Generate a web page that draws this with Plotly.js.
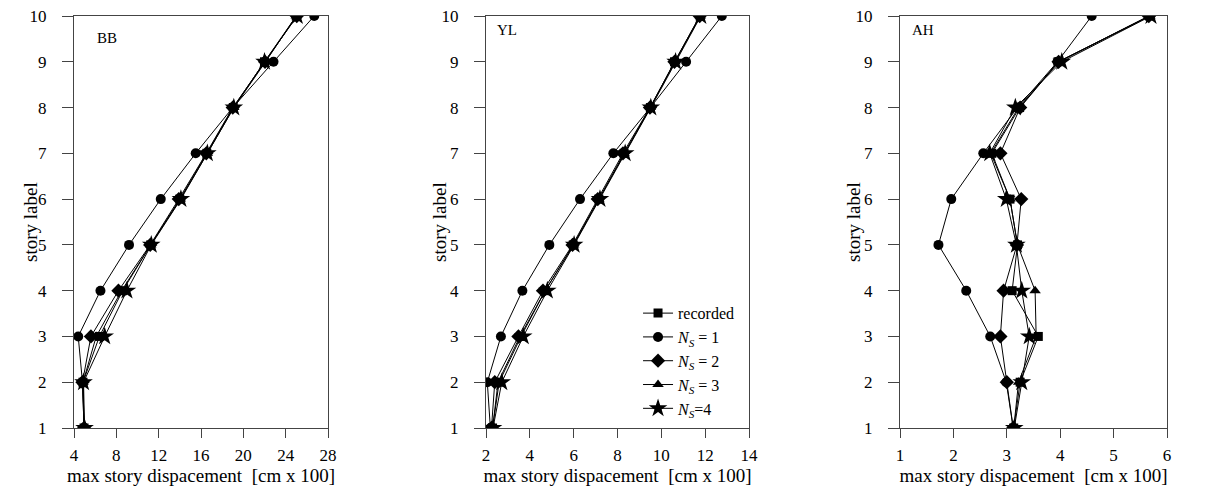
<!DOCTYPE html>
<html>
<head>
<meta charset="utf-8">
<script src="https://cdn.plot.ly/plotly-3.0.1.min.js"></script>
<style>html,body{margin:0;padding:0;background:#fff;}#chart{width:1216px;height:488px;}</style>
</head>
<body>
<div id="chart"></div>
<script>
// story levels
const stories = [1, 2, 3, 4, 5, 6, 7, 8, 9, 10];
const seriesNames = ["recorded", "<i>N<sub>S</sub></i> = 1", "<i>N<sub>S</sub></i> = 2", "<i>N<sub>S</sub></i> = 3", "<i>N<sub>S</sub></i>=4"];
const seriesSymbols = ["square", "circle", "diamond", "triangle-up", "star"];

// BB panel: max story displacement [cm x 100]
const bbRecorded = [4.95, 4.85, 6.4, 8.6, 11.25, 14.0, 16.55, 19.05, 22.0, 25.0];
const bbNs1 = [4.95, 4.8, 4.4, 6.5, 9.2, 12.2, 15.5, 19.0, 22.85, 26.7];
const bbNs2 = [4.95, 4.8, 5.6, 8.2, 11.2, 13.9, 16.5, 19.0, 22.05, 25.05];
const bbNs3 = [4.95, 4.85, 6.1, 8.5, 11.25, 14.05, 16.6, 19.1, 22.1, 25.0];
const bbNs4 = [5.0, 4.9, 6.9, 9.0, 11.3, 14.1, 16.6, 19.1, 22.0, 25.1];

// YL panel
const ylRecorded = [2.3, 2.6, 3.6, 4.7, 5.98, 7.15, 8.3, 9.5, 10.6, 11.77];
const ylNs1 = [2.2, 2.06, 2.68, 3.66, 4.89, 6.29, 7.81, 9.5, 11.13, 12.76];
const ylNs2 = [2.25, 2.4, 3.48, 4.6, 5.95, 7.1, 8.25, 9.48, 10.6, 11.75];
const ylNs3 = [2.3, 2.55, 3.55, 4.7, 6.0, 7.15, 8.3, 9.5, 10.62, 11.78];
const ylNs4 = [2.32, 2.72, 3.7, 4.8, 6.02, 7.2, 8.35, 9.52, 10.65, 11.8];

// AH panel
const ahRecorded = [3.13, 3.25, 3.59, 3.1, 3.2, 3.06, 2.72, 3.24, 3.96, 5.67];
const ahNs1 = [3.12, 2.99, 2.69, 2.24, 1.72, 1.96, 2.56, 3.2, 3.95, 4.59];
const ahNs2 = [3.12, 3.0, 2.88, 2.94, 3.19, 3.27, 2.88, 3.25, 3.97, 5.66];
const ahNs3 = [3.13, 3.22, 3.55, 3.53, 3.2, 3.06, 2.7, 3.22, 3.98, 5.68];
const ahNs4 = [3.14, 3.28, 3.42, 3.28, 3.18, 2.99, 2.68, 3.16, 4.03, 5.70];

const panelLabels = ["BB", "YL", "AH"];
const xTitle = "max story dispacement  [cm x 100]";
const yTitle = "story label";

const panels = [
  {data: [bbRecorded, bbNs1, bbNs2, bbNs3, bbNs4], xa: "x", ya: "y"},
  {data: [ylRecorded, ylNs1, ylNs2, ylNs3, ylNs4], xa: "x2", ya: "y2"},
  {data: [ahRecorded, ahNs1, ahNs2, ahNs3, ahNs4], xa: "x3", ya: "y3"}
];

const markerSizes = [9, 10, 11, 10, 14];
const traces = [];
panels.forEach((p, pi) => {
  p.data.forEach((vals, si) => {
    traces.push({
      x: vals, y: stories, xaxis: p.xa, yaxis: p.ya,
      type: "scatter", mode: "lines+markers",
      name: seriesNames[si],
      showlegend: pi === 1,
      line: {color: "#000", width: 1},
      marker: {symbol: seriesSymbols[si], color: "#000", size: markerSizes[si]}
    });
  });
});

const FONT = "'Liberation Serif', 'Times New Roman', serif";
const yDom = [1 - 428/488, 1 - 16/488];
function xax(dom, range, dtick) {
  return {
    domain: dom, range: range, dtick: dtick, tick0: range[0],
    showgrid: false, zeroline: false,
    showline: true, linecolor: "#444", linewidth: 1, mirror: true,
    ticks: "outside", ticklen: 9, tickcolor: "#444",
    ticklabelstandoff: 3,
    tickfont: {family: FONT, size: 17, color: "#000"},
    title: {text: xTitle, font: {family: FONT, size: 19, color: "#000"}, standoff: 2},
    automargin: false, fixedrange: true
  };
}
function yax(anchor) {
  return {
    domain: yDom, range: [1, 10], dtick: 1, tick0: 1, anchor: anchor,
    showgrid: false, zeroline: false,
    showline: true, linecolor: "#444", linewidth: 1, mirror: true,
    ticks: "outside", ticklen: 11, tickcolor: "#444",
    ticklabelstandoff: 12,
    tickfont: {family: FONT, size: 17, color: "#000"},
    automargin: false, fixedrange: true
  };
}

const labelPos = [[0.083, 0.947], [0.034, 0.966], [0.037, 0.966]];
const yTitleX = [30, 439, 853];
const panelAnn = panelLabels.map((t, i) => ({
  text: t, xref: ["x", "x2", "x3"][i] + " domain", yref: "y domain",
  x: labelPos[i][0], y: labelPos[i][1], xanchor: "left", yanchor: "middle", showarrow: false,
  font: {family: FONT, size: 15, color: "#000"}
}));
const yTitleAnn = yTitleX.map((px, i) => ({
  text: yTitle, xref: "paper", yref: ["y", "y2", "y3"][i] + " domain",
  x: px / 1216, y: 0.5, xanchor: "center", yanchor: "middle", textangle: -90, showarrow: false,
  font: {family: FONT, size: 19, color: "#000"}
}));

const layout = {
  width: 1216, height: 488,
  margin: {l: 0, r: 0, t: 0, b: 0},
  paper_bgcolor: "#fff", plot_bgcolor: "#fff",
  font: {family: FONT, color: "#000"},
  xaxis: Object.assign(xax([74/1216, 328/1216], [4, 28], 4), {anchor: "y"}),
  xaxis2: Object.assign(xax([486/1216, 749/1216], [2, 14], 2), {anchor: "y2"}),
  xaxis3: Object.assign(xax([900/1216, 1167/1216], [1, 6], 1), {anchor: "y3"}),
  yaxis: yax("x"),
  yaxis2: yax("x2"),
  yaxis3: yax("x3"),
  showlegend: true,
  legend: {
    x: 0.5247, y: 0.393, xanchor: "left", yanchor: "top",
    bgcolor: "rgba(0,0,0,0)", borderwidth: 0,
    font: {family: FONT, size: 16, color: "#000"},
    tracegroupgap: 0
  },
  annotations: panelAnn.concat(yTitleAnn)
};

Plotly.newPlot("chart", traces, layout, {displayModeBar: false, staticPlot: true});
</script>
</body>
</html>
